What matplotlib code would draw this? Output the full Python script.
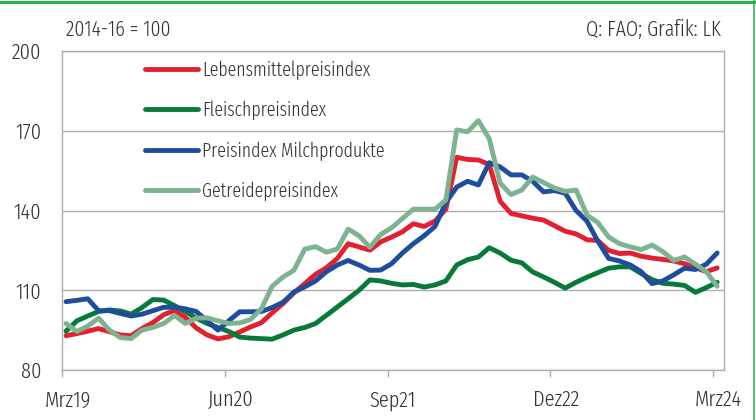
import numpy as np
import matplotlib
matplotlib.use("Agg")
import matplotlib.pyplot as plt
from matplotlib.lines import Line2D

# ---------------------
# data (FAO indices, 2014-16 = 100), monthly Mar 2019 .. Mar 2024
# ---------------------
months = np.arange(61)
tick_labels = ["Mrz19", "Jun20", "Sep21", "Dez22", "Mrz24"]

lebensmittel = [
    92.9, 93.7, 94.6, 95.6, 94.4, 93.2, 92.9, 95.6, 97.8, 100.8,
    102.4, 99.8, 95.8, 93.2, 91.7, 92.5, 94.3, 96.2, 97.8, 101.5,
    105.0, 109.0, 112.5, 116.0, 118.5, 122.0, 127.5, 126.3, 125.1, 128.2,
    130.0, 132.0, 135.0, 134.0, 136.0, 140.5, 160.0, 159.2, 159.0, 157.3,
    143.5, 138.9, 138.0, 137.1, 136.4, 134.3, 132.2, 131.2, 129.0, 128.7,
    125.0, 123.8, 124.0, 122.8, 122.1, 121.6, 121.0, 120.0, 118.5, 117.0,
    118.4,
]
fleisch = [
    94.6, 98.5, 100.3, 102.0, 102.6, 102.2, 101.0, 103.5, 106.5, 106.3,
    104.2, 102.0, 99.5, 97.5, 96.0, 94.5, 92.4, 92.0, 91.8, 91.6,
    93.2, 95.0, 96.0, 97.5, 100.6, 103.7, 106.8, 110.0, 113.9, 113.5,
    112.6, 112.0, 112.2, 111.2, 112.0, 113.5, 119.5, 121.5, 122.5, 126.0,
    124.0, 121.3, 120.3, 116.9, 115.0, 113.0, 110.8, 113.0, 114.9, 116.6,
    118.3, 118.8, 118.8, 116.3, 114.0, 112.6, 112.3, 111.8, 109.2, 111.0,
    113.0,
]
milch = [
    105.7, 106.2, 106.8, 102.3, 102.3, 101.3, 100.3, 101.0, 102.3, 103.6,
    103.6, 103.0, 102.0, 98.5, 95.0, 98.5, 101.9, 101.9, 102.0, 103.5,
    105.5, 109.3, 111.3, 113.5, 117.0, 119.5, 121.2, 119.5, 117.5, 117.6,
    120.0, 124.0, 127.5, 130.5, 134.0, 143.0, 148.8, 151.0, 149.6, 158.0,
    156.4, 153.4, 153.4, 151.0, 147.0, 147.5, 146.5, 140.0, 136.0, 128.5,
    122.0, 121.0, 119.5, 117.0, 112.5, 113.5, 115.8, 118.3, 117.8, 119.8,
    124.0,
]
getreide = [
    97.5, 94.5, 96.5, 99.5, 95.0, 92.2, 91.8, 95.0, 96.0, 97.5,
    100.5, 97.5, 99.5, 99.6, 98.5, 97.5, 97.7, 99.0, 103.0, 111.5,
    115.0, 117.5, 125.5, 126.4, 124.3, 125.5, 133.0, 130.5, 126.2, 131.0,
    133.5, 137.0, 140.5, 140.5, 140.5, 144.0, 170.3, 169.6, 173.8, 167.0,
    150.3, 146.0, 147.7, 152.6, 150.5, 148.5, 147.2, 147.7, 138.3, 135.5,
    130.0, 127.5, 126.3, 125.3, 127.0, 124.5, 121.2, 122.5, 119.8, 117.0,
    111.5,
]

series = [
    ("Lebensmittelpreisindex", lebensmittel, "#e2202f"),
    ("Fleischpreisindex", fleisch, "#08793b"),
    ("Preisindex Milchprodukte", milch, "#1f4d9e"),
    ("Getreidepreisindex", getreide, "#7db390"),
]

# ---------------------
# figure
# ---------------------
plt.rcParams["font.family"] = ["Fira Sans Extra Condensed", "DejaVu Sans"]
plt.rcParams["font.weight"] = 300
text_col = "#333333"
grid_col = "#aeaeae"

fig = plt.figure(figsize=(7.56, 4.2), dpi=100)
ax = fig.add_axes([62 / 756, 50 / 420, (724 - 62) / 756, (370 - 51) / 420])

# values sit mid-month, tick marks at month start
xpos = months + 0.37
for label, vals, col in series:
    ax.plot(xpos, vals, color=col, lw=3.5, label=label,
            solid_joinstyle="round", solid_capstyle="round")

ax.set_xlim(0, 61)
ax.set_ylim(80, 200)
ax.set_yticks([80, 110, 140, 170, 200])
ax.yaxis.grid(True, color=grid_col, lw=1)
ax.set_axisbelow(True)
ax.tick_params(axis="y", length=0, pad=15, labelsize=16, labelcolor=text_col)

major = [0, 15, 30, 45, 60]
ax.set_xticks(major)
ax.set_xticklabels([])
ax.tick_params(axis="x", which="major", length=5, color=grid_col, width=1)
ax.set_xticks([m + 0.5 for m in major], minor=True)
ax.set_xticklabels(tick_labels, minor=True)
ax.tick_params(axis="x", which="minor", length=0, pad=14, labelsize=16,
               labelcolor=text_col)

for sp in ax.spines.values():
    sp.set_color(grid_col)
    sp.set_linewidth(1)

leg = ax.legend(loc="upper left", bbox_to_anchor=(145 / 756, 1 - 60 / 420),
                bbox_transform=fig.transFigure, frameon=False, fontsize=14,
                handlelength=2.7, handletextpad=0.25, labelspacing=1.08,
                borderpad=0, borderaxespad=0)
for t in leg.get_texts():
    t.set_color(text_col)

fig.text(66 / 756, 1 - 30 / 420, "2014-16 = 100", fontsize=15.5, color=text_col,
         ha="left", va="center")
fig.text(721 / 756, 1 - 30 / 420, "Q: FAO; Grafik: LK", fontsize=15.5,
         color=text_col, ha="right", va="center")

# green frame lines (top, right)
fig.add_artist(Line2D([0, 1], [1 - 1.5 / 420, 1 - 1.5 / 420], transform=fig.transFigure,
                      color="#2bb24c", lw=2.2))
fig.add_artist(Line2D([754 / 756, 754 / 756], [0, 1], transform=fig.transFigure,
                      color="#2bb24c", lw=1.1))

fig.savefig("out.png", dpi=100)
